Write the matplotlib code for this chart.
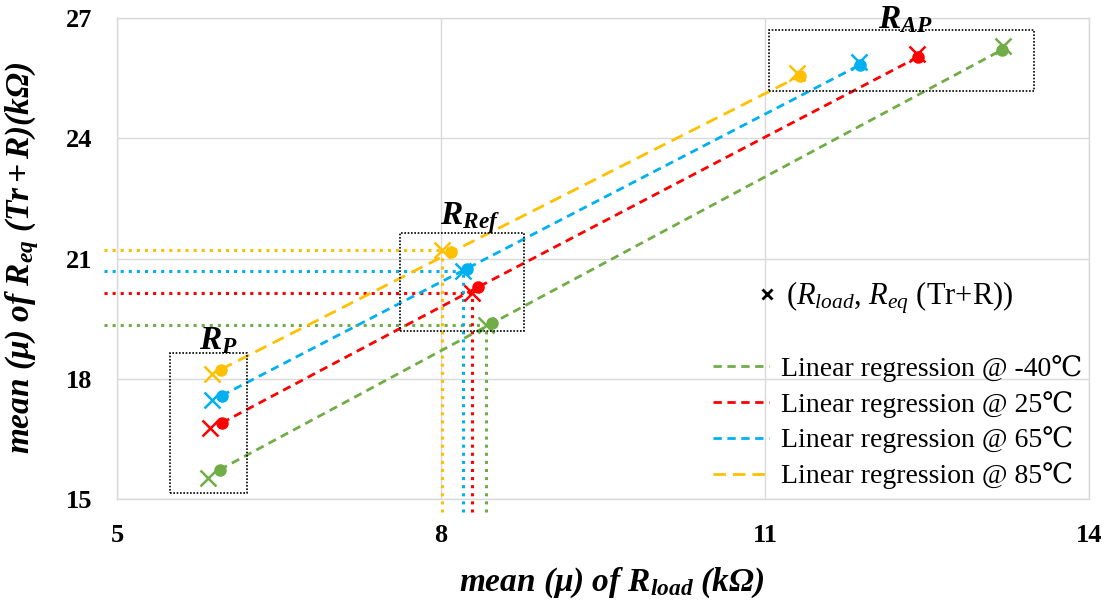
import matplotlib
matplotlib.use("Agg")
import matplotlib.pyplot as plt
from matplotlib.lines import Line2D
from matplotlib.patches import Rectangle

plt.rcParams['font.family'] = ['Liberation Serif', 'DejaVu Serif']
plt.rcParams['mathtext.fontset'] = 'custom'
plt.rcParams['mathtext.rm'] = 'Liberation Serif'
plt.rcParams['mathtext.it'] = 'Liberation Serif:italic'
plt.rcParams['mathtext.bf'] = 'Liberation Serif:bold:italic'

# Measured points (R_load, R_eq) for R_P, R_Ref and R_AP at each temperature
temps = ['-40', '25', '65', '85']
colors = ['#70AD47', '#FF0000', '#00B0F0', '#FFC000']

x_meas = {
    '-40': [5.84, 8.42, 13.20],
    '25': [5.86, 8.29, 12.41],
    '65': [5.88, 8.20, 11.87],
    '85': [5.88, 8.01, 11.30],
}
y_meas = {
    '-40': [15.53, 19.33, 26.30],
    '25': [16.78, 20.15, 26.10],
    '65': [17.48, 20.70, 25.90],
    '85': [18.13, 21.20, 25.63],
}

# Points on the linear regression lines
x_fit = {
    '-40': [5.95, 8.47, 13.19],
    '25': [5.97, 8.34, 12.42],
    '65': [5.97, 8.24, 11.88],
    '85': [5.96, 8.09, 11.32],
}
y_fit = {
    '-40': [15.73, 19.38, 26.20],
    '25': [16.90, 20.28, 26.03],
    '65': [17.58, 20.75, 25.83],
    '85': [18.23, 21.15, 25.55],
}

# Regions around each resistance state: (x0, x1, y0, y1)
regions = {
    'P': (5.49, 6.20, 15.15, 18.65),
    'Ref': (7.62, 8.77, 19.18, 21.63),
    'AP': (11.04, 13.49, 25.17, 26.70),
}
region_labels = {
    'P': (5.94, 18.95, r'$\mathbf{R_{P}}$'),
    'Ref': (8.27, 22.0, r'$\mathbf{R_{Ref}}$'),
    'AP': (12.30, 26.95, r'$\mathbf{R_{AP}}$'),
}

x_ticks = [5, 8, 11, 14]
y_ticks = [15, 18, 21, 24, 27]

fig = plt.figure(figsize=(11.06, 6.10), dpi=100)
ax = fig.add_axes([117 / 1106, 1 - 499 / 610, (1089 - 117) / 1106, (499 - 18) / 610])
ax.set_xlim(5, 14)
ax.set_ylim(15, 27)

grid_c = '#D9D9D9'
ax.set_xticks(x_ticks)
ax.set_yticks(y_ticks)
ax.grid(True, color=grid_c, linewidth=1.0, zorder=0)
for s in ax.spines.values():
    s.set_color(grid_c)
    s.set_linewidth(1.0)
ax.tick_params(length=0, labelsize=19, pad=18)
for lbl in ax.get_xticklabels() + ax.get_yticklabels():
    lbl.set_fontweight('bold')

dash_styles = {'-40': (0, (3.0, 2.0)), '25': (0, (3.0, 2.0)),
               '65': (0, (3.0, 2.0)), '85': (0, (4.5, 2.5))}

# Dotted guides from the R_Ref points to both axes
x_left = 4.88
y_bottom = 14.67
for t, c in zip(temps, colors):
    xr, yr = x_meas[t][1], y_meas[t][1]
    ax.plot([x_left, xr], [yr, yr], color=c, linestyle=':', linewidth=2.2,
            clip_on=False, zorder=2)
    ax.plot([xr, xr], [y_bottom, yr], color=c, linestyle=':', linewidth=2.2,
            clip_on=False, zorder=2)

for t, c in zip(temps, colors):
    ax.plot(x_fit[t], y_fit[t], color=c, linestyle=dash_styles[t], linewidth=2,
            marker='o', markersize=8, zorder=3)
    ax.plot(x_meas[t], y_meas[t], linestyle='none', marker='x', color=c,
            markersize=12, markeredgewidth=1.8, zorder=4)

for key, (x0, x1, y0, y1) in regions.items():
    ax.add_patch(Rectangle((x0, y0), x1 - x0, y1 - y0, fill=False,
                           edgecolor='black', linestyle=(0, (1, 1)),
                           linewidth=1.2, zorder=5))
    lx, ly, txt = region_labels[key]
    ax.text(lx, ly, txt, fontsize=24, ha='center', va='center', zorder=6)

fig.text(612 / 1106, 1 - 583 / 610,
         r'$\mathbf{mean\ (\mu)\ of\ R_{load}\ (k\Omega)}$',
         fontsize=24, ha='center', va='center')
fig.text(22 / 1106, 1 - 258 / 610,
         r'$\mathbf{mean\ (\mu)\ of\ R_{eq}\ (Tr+R)(k\Omega)}$',
         fontsize=24, ha='center', va='center', rotation=90)

# Legends
h_pts = [Line2D([], [], linestyle='none', marker='x', color='black',
                markersize=7, markeredgewidth=2)]
leg1 = ax.legend(h_pts, [r'($R_{load}$, $R_{eq}$ (Tr+R))'], loc='center left',
                 bbox_to_anchor=(759 / 1106, 1 - 298 / 610),
                 bbox_transform=fig.transFigure, frameon=False, fontsize=22,
                 handlelength=0.5, handletextpad=0.4, borderpad=0,
                 borderaxespad=0)
ax.add_artist(leg1)

h_lines = [Line2D([], [], color=c, linestyle=dash_styles[t], linewidth=2)
           for t, c in zip(temps, colors)]
labels = [f'Linear regression @ {t}\u2103' for t in temps]
ax.legend(h_lines, labels, loc='upper left',
          bbox_to_anchor=(713 / 1106, 1 - 355 / 610),
          bbox_transform=fig.transFigure, frameon=False, fontsize=20,
          handlelength=2.0, handletextpad=0.45, labelspacing=0.32, borderpad=0,
          borderaxespad=0)

fig.savefig('out.png', dpi=100)
